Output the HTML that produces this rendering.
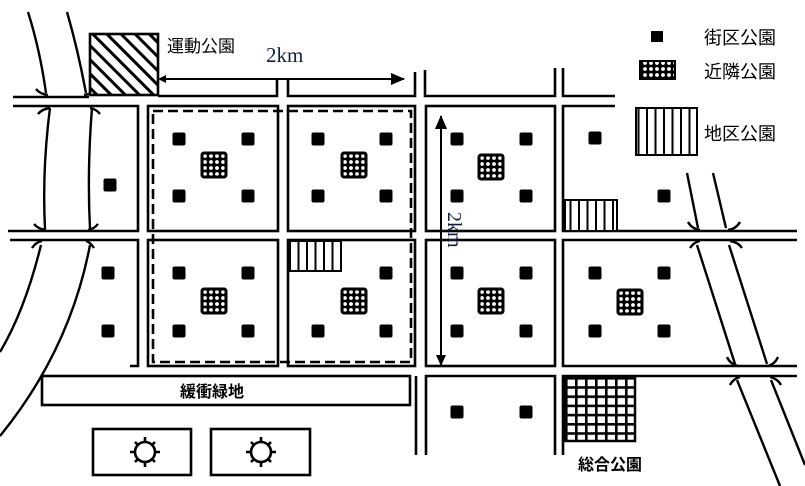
<!DOCTYPE html>
<html><head><meta charset="utf-8"><style>
html,body{margin:0;padding:0;background:#fff;}
svg{display:block;}
text{font-family:"Liberation Sans","Noto Sans CJK JP",sans-serif;}
</style></head><body>
<svg width="805" height="486" viewBox="0 0 805 486" xmlns="http://www.w3.org/2000/svg">
<defs>
<pattern id="hatch" patternUnits="userSpaceOnUse" width="10" height="10" patternTransform="rotate(-45)">
<rect width="10" height="10" fill="#fff"/><rect x="0" y="0" width="3" height="10" fill="#000"/></pattern>
<pattern id="dots" patternUnits="userSpaceOnUse" width="6" height="6">
<rect width="6" height="6" fill="#000"/><circle cx="3" cy="3" r="1.9" fill="#fff"/></pattern>
<pattern id="grid" patternUnits="userSpaceOnUse" x="565" y="377" width="10" height="9.2">
<rect width="10" height="9.2" fill="#000"/><rect x="2.6" y="2.6" width="7.4" height="6.6" fill="#fff"/></pattern>
<pattern id="vstripe" patternUnits="userSpaceOnUse" width="8.5" height="10">
<rect width="8.5" height="10" fill="#fff"/><rect x="0" width="2" height="10" fill="#000"/></pattern>
<g id="sq"><rect x="-6.5" y="-6.5" width="13" height="13" rx="2" fill="#000"/></g>
<g id="nb"><rect x="-12" y="-12" width="24" height="24" rx="2" fill="url(#dots)" stroke="#000" stroke-width="3"/></g>
<marker id="ah2" markerWidth="14" markerHeight="12" refX="13" refY="6" orient="auto" markerUnits="userSpaceOnUse"><path d="M0,0 L14,6 L0,12 Z" fill="#000"/></marker>
</defs>

<g fill="none" stroke="#000" stroke-width="2.6">
<path d="M13,97 H89"/>
<path d="M158,96 H277 V79"/>
<path d="M288,79 V96 H415 V72"/>
<path d="M425,70 V96 H555 V68"/>
<path d="M563,68 V96 H615"/>
<path d="M13,106 H138 V231 H8"/>
<rect x="148" y="106" width="130" height="125"/>
<rect x="288" y="106" width="127" height="125"/>
<rect x="426" y="106" width="129" height="125"/>
<path d="M615,106 H563 V231 H797"/>
<path d="M10,240 H138 V366 H130"/>
<rect x="148" y="240" width="130" height="126"/>
<rect x="288" y="240" width="127" height="126"/>
<rect x="426" y="240" width="129" height="126"/>
<path d="M797,240 H563 V366 H797"/>
<rect x="42" y="376" width="368" height="29"/>
<path d="M416,376 V455"/>
<path d="M426,455 V376 H555 V455"/>
<path d="M563,455 V376 H797"/>
<rect x="93" y="429" width="98" height="46"/>
<rect x="211" y="429" width="99" height="46"/>
<rect x="153" y="111" width="258" height="251" stroke-dasharray="10,5"/>
</g>

<g fill="none" stroke="#000" stroke-width="2.4">
<path d="M28,12 Q40,50 46,93"/>
<path d="M67,12 Q78,50 86,93"/>
<path d="M50,108 Q42,170 45,229"/>
<path d="M92,108 Q87,170 90,229"/>
<path d="M41,245 Q25,310 0,352"/>
<path d="M90,245 Q70,350 0,436"/>
<path d="M36,89 Q40,94 48,95 M96,89 Q92,94 84,95"/>
<path d="M38,114 Q42,109 50,108 M100,114 Q96,109 90,108"/>
<path d="M34,224 Q38,229 46,230 M98,224 Q94,229 88,230"/>
<path d="M32,248 Q36,242 42,241 M94,248 Q90,242 86,241"/>
<path d="M687,173 L698,228"/><path d="M713,173 L726,228"/>
<path d="M697,245 L735,364"/><path d="M729,245 L767,364"/>
<path d="M737,380 L780,486"/><path d="M771,380 L805,465"/>
<path d="M688,222 Q692,229 700,230 M740,222 Q736,229 728,230"/>
<path d="M690,248 Q694,242 700,241 M742,248 Q738,242 730,241"/>
<path d="M727,357 Q730,364 738,366 M778,357 Q775,364 768,366"/>
<path d="M730,385 Q733,379 740,377 M781,385 Q778,379 770,377"/>
</g>

<rect x="90" y="34" width="68" height="61" fill="url(#hatch)" stroke="#000" stroke-width="2.6"/>
<text x="167" y="52" font-size="17">運動公園</text>

<line x1="162" y1="79" x2="404" y2="79" stroke="#000" stroke-width="2" marker-end="url(#ah2)"/>
<path d="M158,79 L166,75 L166,83 Z" fill="#000"/>
<text x="266" y="62" font-size="21" fill="#102040" style="font-family:'Liberation Serif',serif">2km</text>
<line x1="441" y1="365" x2="441" y2="116" stroke="#000" stroke-width="2" marker-end="url(#ah2)"/>
<path d="M441,366 L436,355 L446,355 Z" fill="#000"/>
<text transform="translate(448,212) rotate(90)" font-size="20" fill="#102040" style="font-family:'Liberation Serif',serif">2km</text>

<use href="#sq" x="110" y="185"/>
<use href="#sq" x="108" y="273"/><use href="#sq" x="108" y="331"/>
<use href="#sq" x="179" y="139"/><use href="#sq" x="248" y="139"/><use href="#sq" x="179" y="196"/><use href="#sq" x="248" y="196"/>
<use href="#sq" x="318" y="139"/><use href="#sq" x="386" y="139"/><use href="#sq" x="318" y="196"/><use href="#sq" x="386" y="196"/>
<use href="#sq" x="457" y="139"/><use href="#sq" x="526" y="139"/><use href="#sq" x="457" y="196"/><use href="#sq" x="526" y="196"/>
<use href="#sq" x="595" y="138"/><use href="#sq" x="664" y="196"/>
<use href="#sq" x="179" y="273"/><use href="#sq" x="248" y="273"/><use href="#sq" x="179" y="331"/><use href="#sq" x="248" y="331"/>
<use href="#sq" x="386" y="273"/><use href="#sq" x="318" y="331"/><use href="#sq" x="386" y="331"/>
<use href="#sq" x="457" y="273"/><use href="#sq" x="526" y="273"/><use href="#sq" x="457" y="331"/><use href="#sq" x="526" y="331"/>
<use href="#sq" x="595" y="273"/><use href="#sq" x="664" y="273"/><use href="#sq" x="595" y="331"/><use href="#sq" x="664" y="331"/>
<use href="#sq" x="457" y="412"/><use href="#sq" x="526" y="412"/>

<use href="#nb" x="214" y="165"/><use href="#nb" x="354" y="165"/><use href="#nb" x="491" y="167"/>
<use href="#nb" x="214" y="301"/><use href="#nb" x="354" y="301"/><use href="#nb" x="491" y="301"/><use href="#nb" x="630" y="302"/>

<rect x="289" y="241" width="52" height="30" fill="url(#vstripe)" stroke="#000" stroke-width="2"/>
<rect x="565" y="200" width="52" height="31" fill="url(#vstripe)" stroke="#000" stroke-width="2"/>

<rect x="565" y="377" width="70" height="64" fill="url(#grid)"/>
<rect x="565" y="377" width="70" height="64" fill="none" stroke="#000" stroke-width="2.5"/>
<text x="578" y="470" font-size="16" font-weight="bold">総合公園</text>

<text x="212" y="397" font-size="16" font-weight="bold" text-anchor="middle">緩衝緑地</text>

<g stroke="#000" stroke-width="2.6" fill="none">
<g transform="translate(145,452)">
<circle r="10"/><path d="M0,-10 V-15 M0,10 V15 M-10,0 H-15 M10,0 H15 M7,-7 L10,-10 M-7,-7 L-10,-10 M7,7 L10,10 M-7,7 L-10,10"/></g>
<g transform="translate(261,452)">
<circle r="10"/><path d="M0,-10 V-15 M0,10 V15 M-10,0 H-15 M10,0 H15 M7,-7 L10,-10 M-7,-7 L-10,-10 M7,7 L10,10 M-7,7 L-10,10"/></g>
</g>

<rect x="651" y="31" width="12" height="11" fill="#000"/>
<text x="704" y="44" font-size="18">街区公園</text>
<rect x="640" y="61" width="35" height="18" fill="url(#dots)" stroke="#000" stroke-width="2"/>
<text x="704" y="78" font-size="18">近隣公園</text>
<rect x="636" y="108" width="61" height="47" fill="url(#vstripe)" stroke="#000" stroke-width="2"/>
<text x="704" y="140" font-size="18">地区公園</text>
</svg>
</body></html>
